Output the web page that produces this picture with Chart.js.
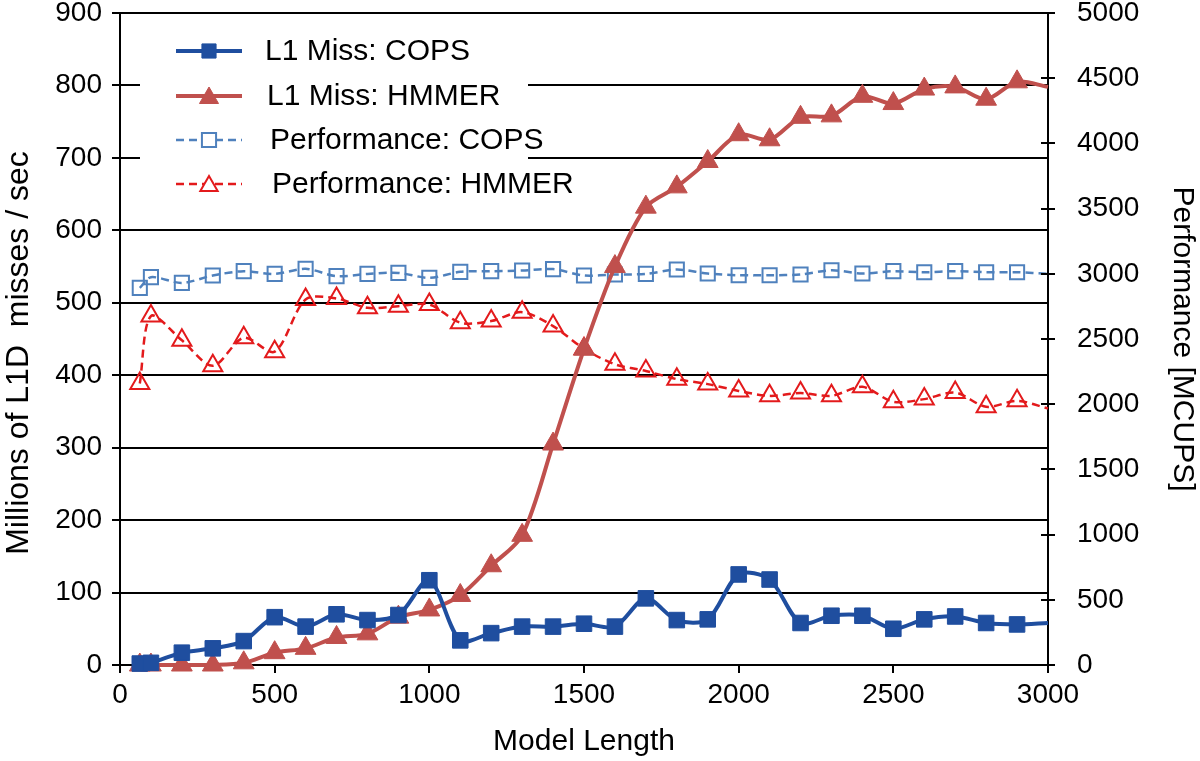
<!DOCTYPE html>
<html>
<head>
<meta charset="utf-8">
<script src="https://cdn.jsdelivr.net/npm/chart.js@4.4.1/dist/chart.umd.min.js"></script>
<style>
  html, body { margin: 0; padding: 0; background: #fff; }
  #wrap { width: 1200px; height: 761px; }
  canvas { display: block; }
</style>
</head>
<body>
<div id="wrap"><canvas id="c" width="1200" height="761"></canvas></div>
<script>
// ---- data ----
const modelLength = [64, 100, 200, 300, 400, 500, 600, 700, 800, 900, 1000, 1100, 1200, 1300, 1400, 1500,
  1600, 1700, 1800, 1900, 2000, 2100, 2200, 2300, 2400, 2500, 2600, 2700, 2800, 2900, 3000];
const l1MissCops = [2, 3, 17, 23, 33, 66, 53, 70, 62, 69, 117, 34, 44, 53, 53, 57,
  53, 92, 62, 63, 125, 118, 58, 68, 68, 50, 63, 67, 58, 56, 58];
const l1MissHmmer = [0, 0, 0, 0, 3, 17, 23, 38, 43, 66, 76, 96, 137, 179, 305, 436,
  550, 632, 660, 695, 732, 725, 756, 758, 785, 775, 795, 798, 781, 805, 798];
const perfCops = [2892, 2974, 2930, 2987, 3020, 2999, 3038, 2982, 2999, 3007, 2969, 3015, 3020, 3025, 3036, 2987,
  2995, 2999, 3033, 3002, 2989, 2989, 2995, 3027, 3002, 3020, 3012, 3020, 3012, 3012, 2999];
const perfHmmer = [2159, 2676, 2490, 2294, 2510, 2403, 2803, 2811, 2739, 2752, 2765, 2625, 2638, 2706, 2599, 2425,
  2306, 2255, 2192, 2154, 2102, 2064, 2085, 2064, 2133, 2018, 2039, 2089, 1980, 2026, 1967];
const seriesNames = ['L1 Miss: COPS', 'L1 Miss: HMMER', 'Performance: COPS', 'Performance: HMMER'];
const xRange = [0, 3000], xStep = 500;
const leftRange = [0, 900], leftStep = 100;
const rightRange = [0, 5000], rightStep = 500;
const xTitle = 'Model Length';
const leftTitle = 'Millions of L1D  misses / sec';
const rightTitle = 'Performance [MCUPS]';

// ---- styling ----
const FONT = "'Liberation Sans', Arial, Helvetica, sans-serif";
const lastIdx = modelLength.length - 1;
function pts(ys) { return modelLength.map((x, i) => ({ x: x, y: ys[i] })); }
function rad(r) { return (c) => (c.dataIndex === lastIdx ? 0 : r); }
const plain = (v) => String(v);

const COL_BLUE = '#1F4E9F';
const COL_RED = '#C0504D';
const COL_LBLUE = '#4F81BD';
const COL_BRED = '#E31A1C';

const datasets = [
  { label: seriesNames[0], data: pts(l1MissCops), yAxisID: 'y', borderColor: COL_BLUE, backgroundColor: COL_BLUE,
    borderWidth: 4, pointStyle: 'rect', pointRadius: rad(11), pointBorderWidth: 1, pointBackgroundColor: COL_BLUE,
    pointBorderColor: COL_BLUE, tension: 0.3, clip: false, _mk: 'rect', _fill: true, _dash: [] },
  { label: seriesNames[1], data: pts(l1MissHmmer), yAxisID: 'y', borderColor: COL_RED, backgroundColor: COL_RED,
    borderWidth: 4, pointStyle: 'triangle', pointRadius: rad(12), pointBorderWidth: 1, pointBackgroundColor: COL_RED,
    pointBorderColor: COL_RED, tension: 0.3, clip: false, _mk: 'triangle', _fill: true, _dash: [] },
  { label: seriesNames[2], data: pts(perfCops), yAxisID: 'y1', borderColor: COL_LBLUE, backgroundColor: 'rgba(0,0,0,0)',
    borderWidth: 2.5, borderDash: [8, 5], pointStyle: 'rect', pointRadius: rad(10), pointBorderWidth: 2,
    pointBackgroundColor: 'rgba(0,0,0,0)', pointBorderColor: COL_LBLUE, tension: 0.3, clip: false,
    _mk: 'rect', _fill: false, _dash: [8, 5] },
  { label: seriesNames[3], data: pts(perfHmmer), yAxisID: 'y1', borderColor: COL_BRED, backgroundColor: 'rgba(0,0,0,0)',
    borderWidth: 2.5, borderDash: [8, 5], pointStyle: 'triangle', pointRadius: rad(11), pointBorderWidth: 2,
    pointBackgroundColor: 'rgba(0,0,0,0)', pointBorderColor: COL_BRED, tension: 0.3, clip: false,
    _mk: 'triangle', _fill: false, _dash: [8, 5] }
];

function drawMarker(ctx, kind, x, y, r, fill, color, lw) {
  ctx.beginPath();
  if (kind === 'rect') {
    const s = Math.SQRT1_2 * r;
    ctx.rect(x - s, y - s, 2 * s, 2 * s);
  } else {
    ctx.moveTo(x, y - r);
    ctx.lineTo(x + 0.866 * r, y + r / 2);
    ctx.lineTo(x - 0.866 * r, y + r / 2);
    ctx.closePath();
  }
  ctx.setLineDash([]);
  ctx.lineWidth = lw;
  ctx.strokeStyle = color;
  ctx.fillStyle = fill ? color : '#fff';
  ctx.fill();
  ctx.stroke();
}

const innerTicks = {
  id: 'innerTicks',
  afterDraw(chart) {
    const s = chart.scales.y1;
    const ctx = chart.ctx;
    ctx.save();
    ctx.strokeStyle = '#000';
    ctx.lineWidth = 2;
    s.ticks.forEach(t => {
      const y = Math.round(s.getPixelForValue(t.value));
      ctx.beginPath();
      ctx.moveTo(s.left - 7, y);
      ctx.lineTo(s.left, y);
      ctx.stroke();
    });
    ctx.restore();
  }
};

const leftTitlePlugin = {
  id: 'leftTitle',
  afterDraw(chart) {
    const ctx = chart.ctx;
    const s = chart.scales.y;
    ctx.save();
    ctx.translate(28, (s.top + s.bottom) / 2 + 14);
    ctx.rotate(-Math.PI / 2);
    ctx.fillStyle = '#000';
    ctx.font = '32px ' + FONT;
    ctx.textAlign = 'center';
    ctx.textBaseline = 'alphabetic';
    ctx.fillText(leftTitle, 0, 0);
    ctx.restore();
  }
};

const legendBox = {
  id: 'legendBox',
  afterDraw(chart) {
    const ctx = chart.ctx;
    ctx.save();
    ctx.fillStyle = '#fff';
    ctx.fillRect(140, 22, 388, 176);
    const rows = [
      { y: 51, tx: 265 }, { y: 96, tx: 267 }, { y: 140, tx: 270 }, { y: 184, tx: 272 }
    ];
    chart.data.datasets.forEach((ds, i) => {
      const r = rows[i];
      ctx.strokeStyle = ds.borderColor;
      ctx.lineWidth = ds.borderWidth;
      ctx.setLineDash(ds._dash);
      ctx.beginPath();
      ctx.moveTo(176, r.y);
      ctx.lineTo(242, r.y);
      ctx.stroke();
      const mr = ds._fill ? (ds._mk === 'rect' ? 10 : 11) : 10;
      drawMarker(ctx, ds._mk, 209, r.y + (ds._mk === 'triangle' ? 2 : 0), mr, ds._fill, ds.borderColor, ds._fill ? 1 : 2);
      ctx.setLineDash([]);
      ctx.fillStyle = '#000';
      ctx.font = '30px ' + FONT;
      ctx.textBaseline = 'middle';
      ctx.textAlign = 'left';
      ctx.fillText(ds.label, r.tx, r.y + 1);
    });
    ctx.restore();
  }
};

const tickFont = { family: FONT, size: 28 };
const titleFont = { family: FONT, size: 30 };

new Chart(document.getElementById('c'), {
  type: 'line',
  data: { datasets: datasets },
  options: {
    responsive: false,
    animation: false,
    devicePixelRatio: 1,
    layout: { padding: { top: 11, left: 0, right: 0, bottom: 0 } },
    plugins: { legend: { display: false }, tooltip: { enabled: false } },
    scales: {
      x: {
        type: 'linear', min: xRange[0], max: xRange[1],
        ticks: { stepSize: xStep, font: tickFont, color: '#000', padding: 5, maxRotation: 0, callback: plain },
        grid: { drawOnChartArea: false, tickLength: 8, color: '#000', lineWidth: 2 },
        border: { color: '#000', width: 2 },
        title: { display: true, text: xTitle, font: titleFont, color: '#000', padding: { top: 0, bottom: 1 } },
        afterFit: (s) => { s.height = 96; s.paddingLeft = 0; s.paddingRight = 0; }
      },
      y: {
        position: 'left', min: leftRange[0], max: leftRange[1],
        ticks: { stepSize: leftStep, font: tickFont, color: '#000', padding: 10, callback: plain },
        grid: { color: '#000', lineWidth: 2, tickLength: 8 },
        border: { color: '#000', width: 2 },
        title: { display: false },
        afterFit: (s) => { s.width = 120; s.paddingTop = 0; s.paddingBottom = 0; }
      },
      y1: {
        position: 'right', min: rightRange[0], max: rightRange[1],
        ticks: { stepSize: rightStep, font: tickFont, color: '#000', padding: 22, callback: plain },
        grid: { drawOnChartArea: false, color: '#000', lineWidth: 2, tickLength: 7 },
        border: { color: '#000', width: 2 },
        title: { display: true, text: rightTitle, font: titleFont, color: '#000', padding: { top: 0, bottom: 0 } },
        afterFit: (s) => { s.width = 152; s.paddingTop = 0; s.paddingBottom = 0; }
      }
    }
  },
  plugins: [innerTicks, leftTitlePlugin, legendBox]
});
</script>
</body>
</html>
